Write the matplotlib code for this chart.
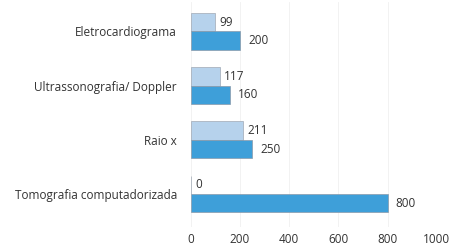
import numpy as np
import matplotlib.pyplot as plt

plt.rcParams["font.family"] = ["Open Sans", "DejaVu Sans"]

# Data (bottom to top)
exams = ["Tomografia computadorizada", "Raio x", "Ultrassonografia/ Doppler", "Eletrocardiograma"]
light_vals = [0, 211, 117, 99]
dark_vals = [800, 250, 160, 200]
xticks = [0, 200, 400, 600, 800, 1000]

y = np.arange(len(exams))
h = 0.34

fig = plt.figure(figsize=(4.5, 2.45), dpi=100)
ax = fig.add_axes([0.424, 0.0755, 0.547, 0.918])

ax.barh(y + h / 2, light_vals, height=h, color="#b6d2ec", edgecolor="#a0a8b4", linewidth=0.5)
ax.barh(y - h / 2, dark_vals, height=h, color="#3e9fd9", edgecolor="#8a9aaa", linewidth=0.5)

for yi, v in zip(y, light_vals):
    ax.text(v + 18, yi + h / 2, str(v), va="center", ha="left", fontsize=8.5, color="#333333")
for yi, v in zip(y, dark_vals):
    ax.text(v + 33, yi - h / 2, str(v), va="center", ha="left", fontsize=8.5, color="#333333")

ax.set_xlim(0, 1000)
ax.set_ylim(-0.6, 3.55)
ax.set_xticks(xticks)
ax.set_yticks(y)
ax.set_yticklabels(exams)
ax.tick_params(axis="both", length=0, labelsize=8.5, colors="#333333")
ax.tick_params(axis="y", pad=10)
ax.tick_params(axis="x", pad=5)
ax.grid(axis="x", color="#f0f0f0", linewidth=0.6)
ax.set_axisbelow(True)
for s in ax.spines.values():
    s.set_visible(False)

fig.savefig("out.png", dpi=100)
